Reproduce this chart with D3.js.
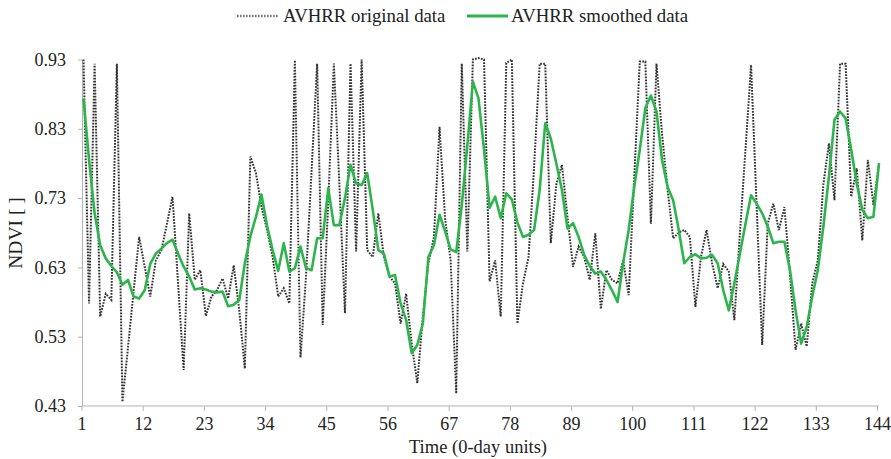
<!DOCTYPE html>
<html>
<head>
<meta charset="utf-8">
<script src="https://cdn.jsdelivr.net/npm/d3@7"></script>
<style>
    body { margin: 0; background: #fff; }
    svg { display: block; font-family: "Liberation Serif", "Times New Roman", serif; }
    .axis path, .axis line { stroke: #b4b4b4; }
    .axis text { fill: #222; font-size: 18px; font-family: "Liberation Serif", serif; }
</style>
</head>
<body>
<svg id="chart" width="891" height="459"></svg>
<script>
// time steps 1..144
var timeSteps = d3.range(1, 145);

// AVHRR original NDVI
var originalData = [
    0.930, 0.578, 0.924, 0.559, 0.592, 0.583, 0.924, 0.436, 0.515, 0.595,
    0.674, 0.631, 0.588, 0.640, 0.655, 0.693, 0.732, 0.607, 0.482, 0.708,
    0.612, 0.626, 0.560, 0.588, 0.597, 0.614, 0.585, 0.633, 0.568, 0.484,
    0.790, 0.766, 0.717, 0.684, 0.645, 0.588, 0.600, 0.578, 0.929, 0.500,
    0.617, 0.770, 0.924, 0.547, 0.724, 0.924, 0.750, 0.564, 0.924, 0.653,
    0.930, 0.655, 0.645, 0.708, 0.645, 0.617, 0.607, 0.549, 0.592, 0.520,
    0.463, 0.559, 0.636, 0.674, 0.833, 0.700, 0.640, 0.448, 0.924, 0.653,
    0.930, 0.932, 0.930, 0.610, 0.640, 0.559, 0.925, 0.930, 0.549, 0.607,
    0.645, 0.775, 0.924, 0.924, 0.665, 0.750, 0.778, 0.703, 0.631, 0.660,
    0.645, 0.612, 0.679, 0.570, 0.626, 0.612, 0.607, 0.640, 0.590, 0.760,
    0.927, 0.927, 0.693, 0.924, 0.823, 0.742, 0.672, 0.680, 0.684, 0.674,
    0.573, 0.645, 0.684, 0.636, 0.600, 0.635, 0.624, 0.554, 0.680, 0.800,
    0.922, 0.720, 0.518, 0.693, 0.722, 0.684, 0.717, 0.620, 0.511, 0.549,
    0.516, 0.607, 0.640, 0.750, 0.809, 0.727, 0.924, 0.924, 0.732, 0.773,
    0.669, 0.785, 0.720, 0.780
];

// AVHRR smoothed NDVI
var smoothedData = [
    0.874, 0.785, 0.708, 0.662, 0.643, 0.632, 0.623, 0.605, 0.612, 0.588,
    0.585, 0.597, 0.635, 0.650, 0.657, 0.665, 0.670, 0.650, 0.631, 0.617,
    0.598, 0.600, 0.598, 0.595, 0.594, 0.595, 0.574, 0.576, 0.583, 0.636,
    0.675, 0.703, 0.735, 0.690, 0.655, 0.625, 0.665, 0.624, 0.629, 0.660,
    0.629, 0.626, 0.672, 0.672, 0.744, 0.691, 0.691, 0.730, 0.778, 0.751,
    0.749, 0.766, 0.713, 0.655, 0.650, 0.617, 0.619, 0.578, 0.554, 0.506,
    0.518, 0.549, 0.645, 0.662, 0.706, 0.682, 0.656, 0.652, 0.720, 0.806,
    0.898, 0.874, 0.800, 0.716, 0.732, 0.701, 0.737, 0.728, 0.695, 0.674,
    0.677, 0.684, 0.742, 0.838, 0.816, 0.780, 0.742, 0.686, 0.694, 0.674,
    0.648, 0.632, 0.621, 0.624, 0.612, 0.597, 0.580, 0.636, 0.684, 0.746,
    0.800, 0.860, 0.878, 0.855, 0.785, 0.746, 0.727, 0.684, 0.636, 0.645,
    0.649, 0.643, 0.644, 0.648, 0.636, 0.597, 0.568, 0.607, 0.650, 0.693,
    0.734, 0.722, 0.708, 0.689, 0.665, 0.667, 0.667, 0.626, 0.568, 0.520,
    0.544, 0.588, 0.626, 0.689, 0.761, 0.843, 0.855, 0.845, 0.800, 0.751,
    0.713, 0.701, 0.703, 0.780
];

var xTicks = [1, 12, 23, 34, 45, 56, 67, 78, 89, 100, 111, 122, 133, 144];
var yTicks = [0.43, 0.53, 0.63, 0.73, 0.83, 0.93];

var seriesNames = ["AVHRR original data", "AVHRR smoothed data"];

var svg = d3.select("#chart");

var plotLeft = 82, plotRight = 879, plotTop = 59.5, plotBottom = 406;

var xScale = d3.scaleLinear()
    .domain([1, 144])
    .range([plotLeft + 1.5, plotRight]);

var yScale = d3.scaleLinear()
    .domain([0.43, 0.93])
    .range([plotBottom, plotTop]);

// x axis (ticks sit a touch left of the points, like the original)
var xAxis = d3.axisBottom(xScale)
    .tickValues(xTicks)
    .tickSize(5)
    .tickSizeOuter(0)
    .tickPadding(6)
    .tickFormat(d3.format("d"));

svg.append("g")
    .attr("class", "x axis")
    .attr("transform", "translate(-2," + plotBottom + ")")
    .call(xAxis);

// y axis
var yAxis = d3.axisLeft(yScale)
    .tickValues(yTicks)
    .tickSize(4)
    .tickSizeOuter(0)
    .tickPadding(12)
    .tickFormat(d3.format(".2f"));

svg.append("g")
    .attr("class", "y axis")
    .attr("transform", "translate(" + plotLeft + ",0)")
    .call(yAxis);

// stretch x axis line back to the y axis
svg.select(".x.axis path").attr("d", "M" + (plotLeft + 2) + ",0H" + (plotRight + 2));

var line = d3.line()
    .x(function(d, i) { return xScale(timeSteps[i]); })
    .y(function(d) { return yScale(d); });

svg.append("path")
    .datum(originalData)
    .attr("fill", "none")
    .attr("stroke", "#333")
    .attr("stroke-width", 2)
    .attr("stroke-dasharray", "1.7,1.3")
    .attr("d", line);

svg.append("path")
    .datum(smoothedData)
    .attr("fill", "none")
    .attr("stroke", "#2db54d")
    .attr("stroke-width", 2.6)
    .attr("stroke-linejoin", "round")
    .attr("d", line);

// axis titles
svg.append("text")
    .attr("x", 478)
    .attr("y", 453)
    .attr("text-anchor", "middle")
    .style("font-size", "18.5px")
    .attr("fill", "#222")
    .text("Time (0-day units)");

svg.append("text")
    .attr("transform", "translate(22,233) rotate(-90)")
    .attr("text-anchor", "middle")
    .style("font-size", "19.5px")
    .attr("fill", "#222")
    .text("NDVI [ ]");

// legend
var legend = svg.append("g").attr("class", "legend");

legend.append("line")
    .attr("x1", 237).attr("x2", 279)
    .attr("y1", 16).attr("y2", 16)
    .attr("stroke", "#777")
    .attr("stroke-width", 2.5)
    .attr("stroke-dasharray", "1.6,1.4");

legend.append("text")
    .attr("x", 283).attr("y", 22)
    .style("font-size", "18.8px")
    .attr("fill", "#222")
    .text(seriesNames[0]);

legend.append("line")
    .attr("x1", 467).attr("x2", 508)
    .attr("y1", 16).attr("y2", 16)
    .attr("stroke", "#2db54d")
    .attr("stroke-width", 3);

legend.append("text")
    .attr("x", 511).attr("y", 22)
    .style("font-size", "18.8px")
    .attr("fill", "#222")
    .text(seriesNames[1]);
</script>
</body>
</html>
